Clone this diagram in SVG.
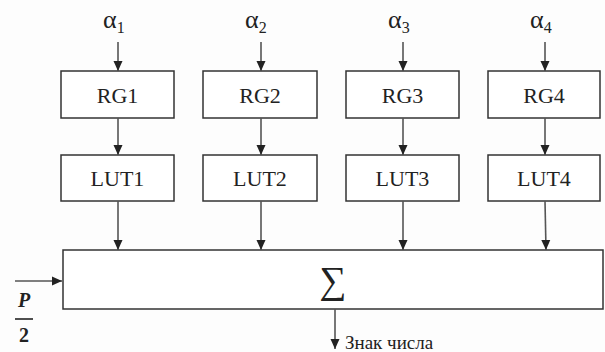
<svg xmlns="http://www.w3.org/2000/svg" width="605" height="352" viewBox="0 0 605 352">
  <style>
    .box { fill: #ffffff; stroke: #333333; stroke-width: 1.5; }
    .wire { fill: none; stroke: #555555; stroke-width: 1.6; }
    .serif { font-family: "Liberation Serif", "DejaVu Serif", "Times New Roman", serif; fill: #222222; }
    .lbl { text-anchor: middle; }
    .blk { font-size: 22px; }
    .alpha { font-size: 26px; }
    .sub { font-size: 16px; }
    .frac { font-size: 20px; font-weight: bold; text-anchor: middle; }
  </style>
  <defs>
    <marker id="arrow" viewBox="0 0 10 10" refX="10" refY="5" markerWidth="10" markerHeight="10" markerUnits="userSpaceOnUse" orient="auto">
      <path d="M0,0.5 L10,5 L0,9.5 Z" fill="#222222"/>
    </marker>
  </defs>
  <rect width="605" height="352" fill="#fdfdfd"/>

  <!-- input operands -->
  <g id="inputs">
    <text class="serif alpha" x="103" y="28">α<tspan class="sub" dy="5">1</tspan></text>
    <text class="serif alpha" x="245" y="28">α<tspan class="sub" dy="5">2</tspan></text>
    <text class="serif alpha" x="388" y="28">α<tspan class="sub" dy="5">3</tspan></text>
    <text class="serif alpha" x="530" y="28">α<tspan class="sub" dy="5">4</tspan></text>
  </g>

  <!-- registers -->
  <g id="rg1"><rect class="box" x="61" y="71" width="113" height="47"/><text class="serif lbl blk" x="117.5" y="103">RG1</text></g>
  <g id="rg2"><rect class="box" x="203" y="71" width="114" height="47"/><text class="serif lbl blk" x="260" y="103">RG2</text></g>
  <g id="rg3"><rect class="box" x="346" y="71" width="113" height="47"/><text class="serif lbl blk" x="402.5" y="103">RG3</text></g>
  <g id="rg4"><rect class="box" x="488" y="71" width="112" height="47"/><text class="serif lbl blk" x="544" y="103">RG4</text></g>

  <!-- lookup tables -->
  <g id="lut1"><rect class="box" x="61" y="155" width="113" height="46"/><text class="serif lbl blk" x="117.5" y="186">LUT1</text></g>
  <g id="lut2"><rect class="box" x="203" y="155" width="114" height="46"/><text class="serif lbl blk" x="260" y="186">LUT2</text></g>
  <g id="lut3"><rect class="box" x="346" y="155" width="113" height="46"/><text class="serif lbl blk" x="402.5" y="186">LUT3</text></g>
  <g id="lut4"><rect class="box" x="488" y="155" width="112" height="46"/><text class="serif lbl blk" x="544" y="186">LUT4</text></g>

  <!-- adder -->
  <g id="sum">
    <rect class="box" x="63" y="250" width="540" height="59"/>
    <text class="serif lbl" x="333" y="293" font-size="38">∑</text>
  </g>

  <!-- side input P/2 -->
  <g id="p-half">
    <text class="serif frac" x="24" y="307" font-style="italic">P</text>
    <line x1="15" y1="319" x2="33" y2="319" stroke="#222222" stroke-width="1.6"/>
    <text class="serif frac" x="24" y="342">2</text>
  </g>

  <!-- sign output label -->
  <text id="sign-label" class="serif" x="345" y="349" font-size="19">Знак числа</text>

  <!-- connectors -->
  <g id="connectors">
    <line class="wire" x1="118" y1="42" x2="118" y2="71" marker-end="url(#arrow)"/>
    <line class="wire" x1="261" y1="42" x2="261" y2="71" marker-end="url(#arrow)"/>
    <line class="wire" x1="403" y1="42" x2="403" y2="71" marker-end="url(#arrow)"/>
    <line class="wire" x1="545" y1="42" x2="545" y2="71" marker-end="url(#arrow)"/>

    <line class="wire" x1="118" y1="118" x2="118" y2="155" marker-end="url(#arrow)"/>
    <line class="wire" x1="261" y1="118" x2="261" y2="155" marker-end="url(#arrow)"/>
    <line class="wire" x1="403" y1="118" x2="403" y2="155" marker-end="url(#arrow)"/>
    <line class="wire" x1="545" y1="118" x2="545" y2="155" marker-end="url(#arrow)"/>

    <line class="wire" x1="118" y1="201" x2="118" y2="250" marker-end="url(#arrow)"/>
    <line class="wire" x1="261" y1="201" x2="261" y2="250" marker-end="url(#arrow)"/>
    <line class="wire" x1="403" y1="201" x2="403" y2="250" marker-end="url(#arrow)"/>
    <line class="wire" x1="545" y1="201" x2="546" y2="250" marker-end="url(#arrow)"/>

    <line class="wire" x1="15" y1="281" x2="62" y2="281" marker-end="url(#arrow)"/>
    <line class="wire" x1="335" y1="309" x2="335" y2="349" marker-end="url(#arrow)"/>
  </g>
</svg>
